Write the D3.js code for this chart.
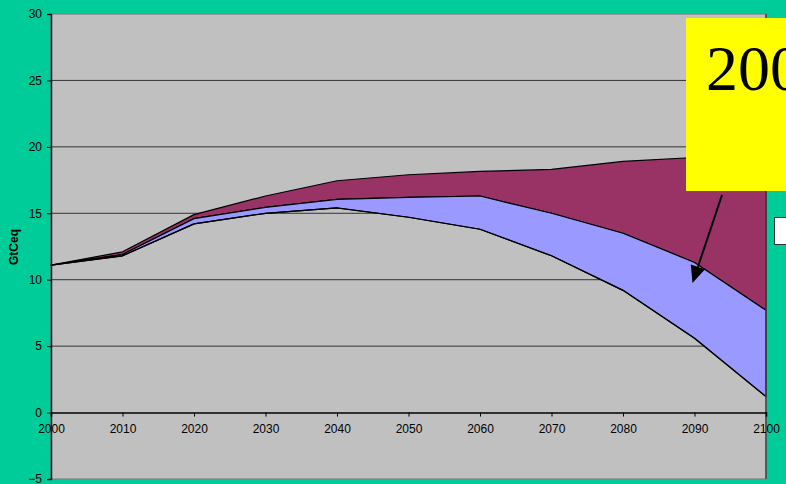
<!DOCTYPE html>
<html>
<head>
<meta charset="utf-8">
<script src="https://cdn.jsdelivr.net/npm/d3@7"></script>
<style>
  html, body { margin: 0; padding: 0; background: #00CC99; }
  svg { display: block; }
</style>
</head>
<body>
<svg id="chart" width="786" height="484"></svg>
<script>
// Decades on the horizontal axis
const years = [2000, 2010, 2020, 2030, 2040, 2050, 2060, 2070, 2080, 2090, 2100];
// Emission pathways (GtCeq): lower bound, middle pathway, upper pathway
const lowerPath  = [11.1, 11.8, 14.2, 15.0, 15.4, 14.7, 13.8, 11.8, 9.2, 5.6, 1.2];
const middlePath = [11.1, 11.9, 14.6, 15.45, 16.05, 16.2, 16.3, 15.0, 13.5, 11.3, 7.7];
const upperPath  = [11.1, 12.1, 14.9, 16.3, 17.45, 17.9, 18.15, 18.3, 18.9, 19.2, 19.5];
// Axis ticks
const yTicks = [-5, 0, 5, 10, 15, 20, 25, 30];
const xTicks = years;
const gridValues = [5, 10, 15, 20, 25];

const svg = d3.select("#chart");
const plotL = 51, plotR = 766, plotT = 14, plotB = 479;

const x = d3.scaleLinear().domain([2000, 2100]).range([plotL, plotR]);
const y = d3.scaleLinear().domain([-5, 30]).range([plotB, plotT]);

// Plot background
svg.append("rect")
  .attr("x", plotL).attr("y", plotT)
  .attr("width", plotR - plotL).attr("height", plotB - plotT)
  .attr("fill", "#C0C0C0")
  .attr("stroke", "#808080").attr("stroke-width", 1.2);

// Gridlines
svg.append("g").selectAll("line").data(gridValues).join("line")
  .attr("x1", plotL).attr("x2", plotR)
  .attr("y1", d => y(d)).attr("y2", d => y(d))
  .attr("stroke", "#333").attr("stroke-width", 1);

const rows = years.map((yr, i) => ({ yr, lo: lowerPath[i], mid: middlePath[i], hi: upperPath[i] }));

// Upper band (maroon) between middle and upper pathways
svg.append("path").datum(rows)
  .attr("d", d3.area().x(d => x(d.yr)).y0(d => y(d.mid)).y1(d => y(d.hi)))
  .attr("fill", "#993366").attr("stroke", "#000").attr("stroke-width", 1.2)
  .attr("stroke-linejoin", "round");

// Middle band (periwinkle) between lower and middle pathways
svg.append("path").datum(rows)
  .attr("d", d3.area().x(d => x(d.yr)).y0(d => y(d.lo)).y1(d => y(d.mid)))
  .attr("fill", "#9999FF").attr("stroke", "#000").attr("stroke-width", 1.2)
  .attr("stroke-linejoin", "round");

// Lower pathway outline
svg.append("path").datum(rows)
  .attr("d", d3.line().x(d => x(d.yr)).y(d => y(d.lo)))
  .attr("fill", "none").attr("stroke", "#000").attr("stroke-width", 1.2);

// Right edge of plot
svg.append("line")
  .attr("x1", plotR).attr("x2", plotR).attr("y1", plotT).attr("y2", plotB)
  .attr("stroke", "#444").attr("stroke-width", 1.5);

// Y axis
const yAxis = d3.axisLeft(y).tickValues(yTicks).tickSize(4).tickPadding(5).tickFormat(d3.format("d"));
const gy = svg.append("g").attr("transform", `translate(${plotL},0)`).call(yAxis);
gy.select(".domain").attr("stroke", "#222").attr("stroke-width", 1.5);
gy.selectAll(".tick line").attr("stroke", "#000");
gy.selectAll("text").attr("font-family", "Arial, 'Liberation Sans', sans-serif")
  .attr("font-size", 12).attr("fill", "#000");

// X axis at zero
const xAxis = d3.axisBottom(x).tickValues(xTicks).tickSize(4).tickPadding(8).tickFormat(d3.format("d"));
const gx = svg.append("g").attr("transform", `translate(0,${y(0)})`).call(xAxis);
gx.select(".domain").attr("stroke", "#000").attr("stroke-width", 1.5);
gx.selectAll(".tick line").attr("stroke", "#000");
gx.selectAll("text").attr("font-family", "Arial, 'Liberation Sans', sans-serif")
  .attr("font-size", 12).attr("fill", "#000");

// Y axis title
svg.append("text")
  .attr("transform", "translate(18,247) rotate(-90)")
  .attr("text-anchor", "middle")
  .attr("font-family", "Arial, 'Liberation Sans', sans-serif")
  .attr("font-size", 12).attr("font-weight", "bold")
  .text("GtCeq");

// Legend box peeking from the right edge
svg.append("rect")
  .attr("x", 774.5).attr("y", 217.5).attr("width", 30).attr("height", 27)
  .attr("fill", "#fff").attr("stroke", "#333").attr("stroke-width", 1);

// Yellow callout
svg.append("rect")
  .attr("x", 686).attr("y", 18).attr("width", 120).attr("height", 173)
  .attr("fill", "#FFFF00");
svg.append("text")
  .attr("x", 706).attr("y", 90)
  .attr("font-family", "'Liberation Serif', 'Times New Roman', serif")
  .attr("font-size", 64).attr("fill", "#000")
  .text("2000");

// Callout arrow: shaft plus a filled triangular head at the tip
const tail = [722, 195], tip = [692.5, 283];
const dx = tip[0] - tail[0], dy = tip[1] - tail[1];
const len = Math.hypot(dx, dy), ux = dx / len, uy = dy / len;
const headLen = 17, headHalf = 7.5;
const base = [tip[0] - ux * headLen, tip[1] - uy * headLen];
svg.append("line")
  .attr("x1", tail[0]).attr("y1", tail[1]).attr("x2", base[0]).attr("y2", base[1])
  .attr("stroke", "#000").attr("stroke-width", 2);
svg.append("path")
  .attr("d", `M${tip[0]},${tip[1]} L${base[0] - uy * headHalf},${base[1] + ux * headHalf} L${base[0] + uy * headHalf},${base[1] - ux * headHalf} Z`)
  .attr("fill", "#000");
</script>
</body>
</html>
